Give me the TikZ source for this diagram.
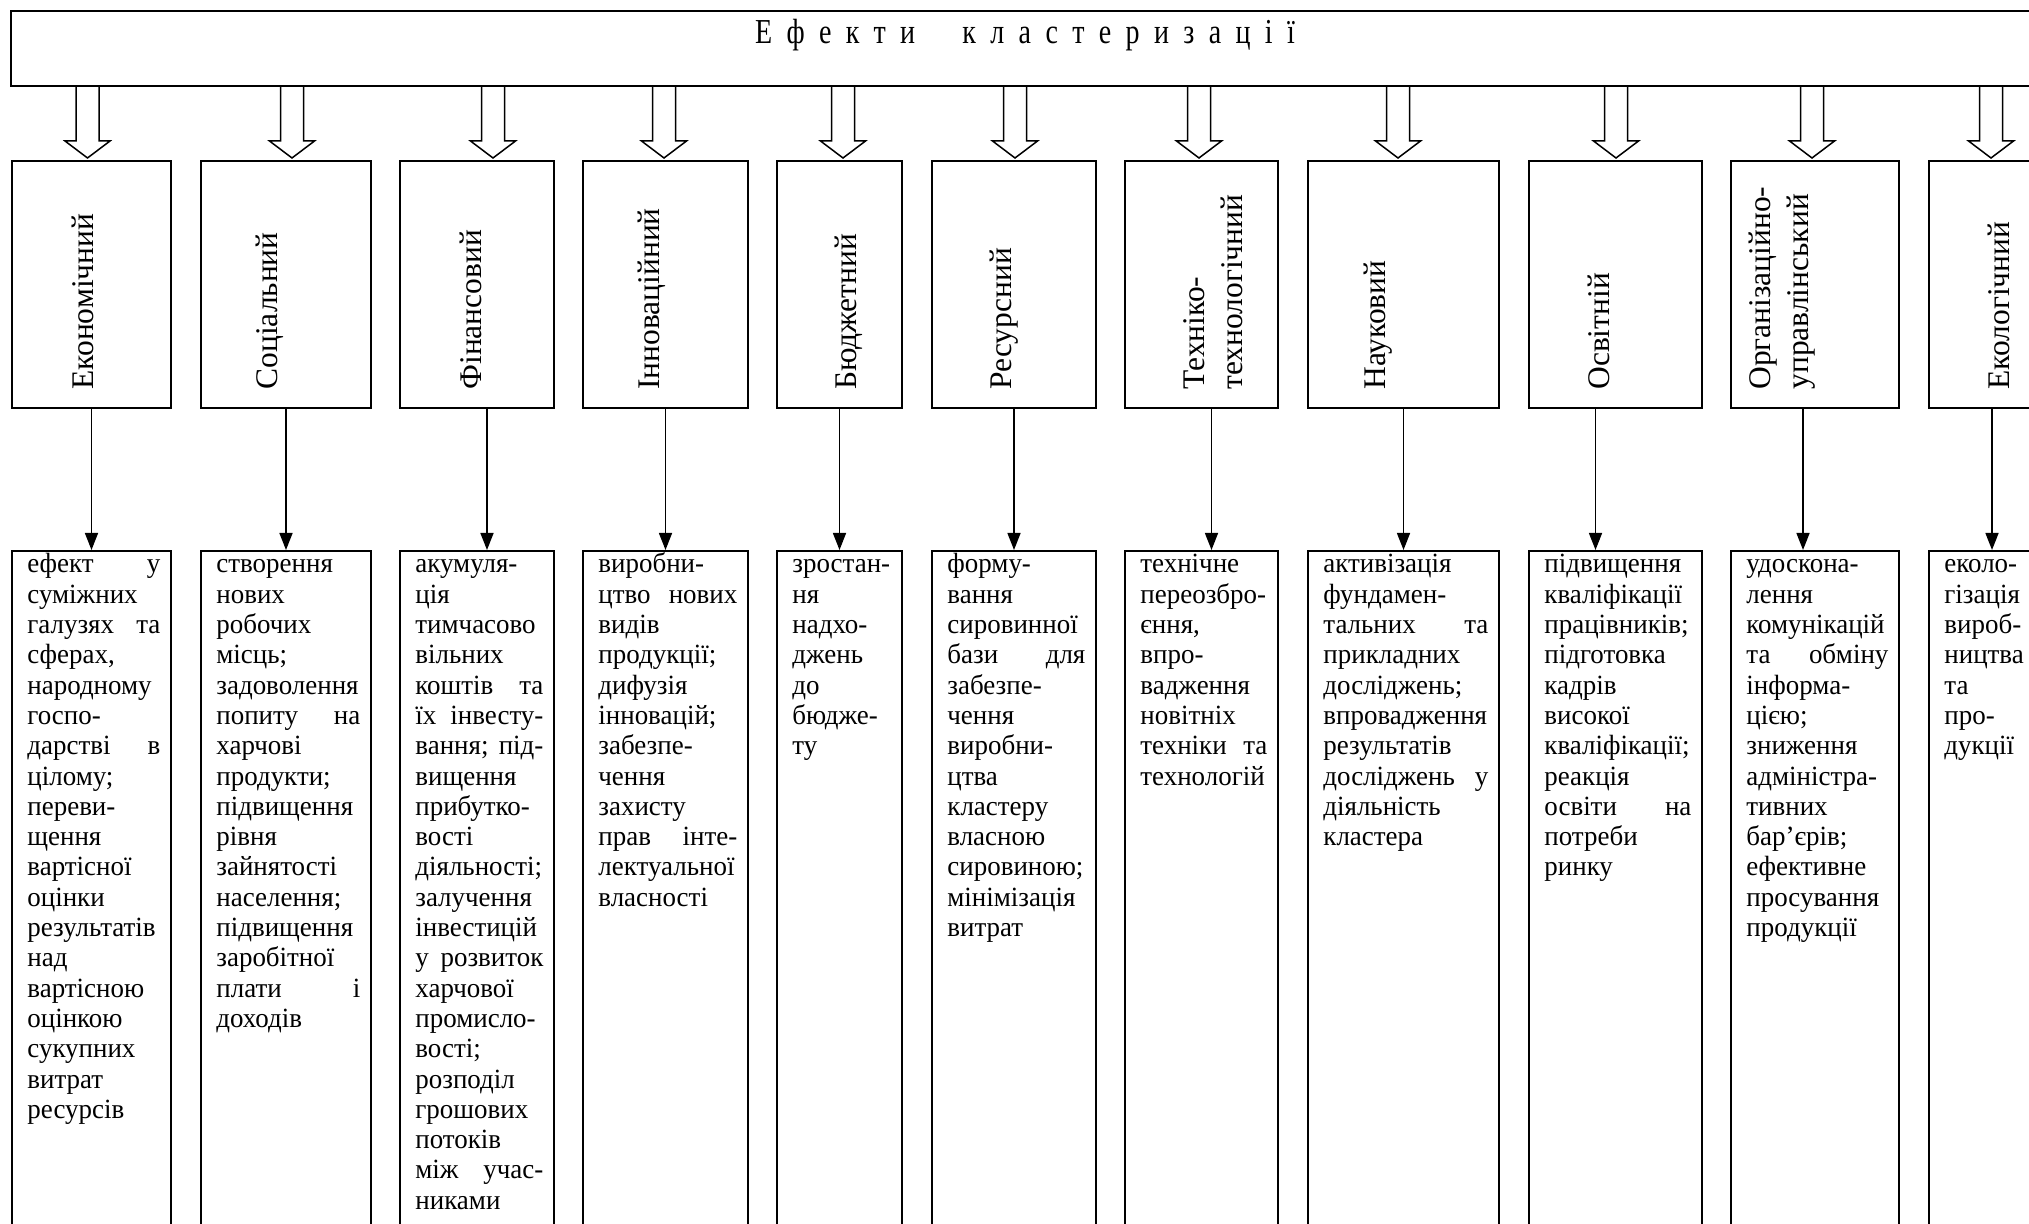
\documentclass[tikz,border=0pt]{standalone}
\usepackage{fontspec}
\setmainfont{Liberation Serif}
\newfontfamily\titlefont[FakeStretch=0.8, LetterSpace=41]{Liberation Serif}
\newfontfamily\bodyfont[FakeStretch=0.97]{Liberation Serif}
\usetikzlibrary{positioning,shapes,arrows.meta}
\newcommand{\jline}[2]{\leavevmode\hbox to\hsize{#1\hfill #2}}
\hyphenpenalty=10000
\exhyphenpenalty=10000

\tikzset{
  topbox/.style={draw, line width=1pt, anchor=north west, inner sep=0pt, minimum width=1014pt, text height=16.5pt, text depth=21pt, font=\titlefont\fontsize{17.5}{20}\selectfont},
  midbox/.style={draw, line width=1pt, anchor=north west, inner sep=0pt, minimum height=123.5pt},
  outbox/.style={draw, line width=1pt, anchor=north west, inner sep=0pt, minimum height=345pt},
  vlabel/.style={rotate=90, anchor=west, inner sep=0pt, align=left, font=\fontsize{15.75}{19}\selectfont},
  outtext/.style={anchor=base west, inner xsep=8pt, inner ysep=0pt, align=left, font=\bodyfont\fontsize{13.9}{15.15}\selectfont},
  hollow/.pic={\draw[line width=0.75pt] (-11.5,0) -- (-11.5,55) -- (-22.5,55) -- (0,72) -- (22.5,55) -- (11.5,55) -- (11.5,0);},
  link/.style={->, line width=0.75pt}
}

\begin{document}
\begin{tikzpicture}[x=0.5pt, y=-0.5pt, >={Triangle[length=8.5pt,width=6.5pt]}]
    \path[use as bounding box, fill=white] (0,0) rectangle (2029,1224);

    % top box
    \node (top) [topbox] at (10,10) {Ефекти\hspace{13pt} кластеризації};

    % effect boxes
    \node (m1) [midbox, minimum width=79.5pt] at (11,160) {};
    \node (m2) [midbox, minimum width=85pt] at (200,160) {};
    \node (m3) [midbox, minimum width=77pt] at (399,160) {};
    \node (m4) [midbox, minimum width=82.5pt] at (582,160) {};
    \node (m5) [midbox, minimum width=62.5pt] at (776,160) {};
    \node (m6) [midbox, minimum width=82pt] at (931,160) {};
    \node (m7) [midbox, minimum width=76.5pt] at (1124,160) {};
    \node (m8) [midbox, minimum width=95.5pt] at (1307,160) {};
    \node (m9) [midbox, minimum width=86.5pt] at (1528,160) {};
    \node (m10) [midbox, minimum width=84pt] at (1730,160) {};
    \node (m11) [midbox, minimum width=63pt] at (1928,160) {};

    \node (l1) [vlabel] at (83,390) {Економічний};
    \node (l2) [vlabel] at (270,390) {Соціальний};
    \node (l3) [vlabel] at (471,390) {Фінансовий};
    \node (l4) [vlabel] at (652,390) {Інноваційний};
    \node (l5) [vlabel] at (849,390) {Бюджетний};
    \node (l6) [vlabel] at (1004,390) {Ресурсний};
    \node (l7) [vlabel] at (1213,390) {Техніко-\\технологічний};
    \node (l8) [vlabel] at (1378,390) {Науковий};
    \node (l9) [vlabel] at (1599,390) {Освітній};
    \node (l10) [vlabel] at (1782,390) {Організаційно-\\управлінський};
    \node (l11) [vlabel] at (1999,390) {Екологічний};

    % hollow arrows
    \pic at (87.5,86) {hollow};
    \pic at (292,86) {hollow};
    \pic at (493,86) {hollow};
    \pic at (664,86) {hollow};
    \pic at (843,86) {hollow};
    \pic at (1015,86) {hollow};
    \pic at (1199,86) {hollow};
    \pic at (1398,86) {hollow};
    \pic at (1616,86) {hollow};
    \pic at (1812,86) {hollow};
    \pic at (1991,86) {hollow};

    % result boxes
    \node (b1) [outbox, minimum width=79.5pt] at (11,550) {};
    \node (b2) [outbox, minimum width=85pt] at (200,550) {};
    \node (b3) [outbox, minimum width=77pt] at (399,550) {};
    \node (b4) [outbox, minimum width=82.5pt] at (582,550) {};
    \node (b5) [outbox, minimum width=62.5pt] at (776,550) {};
    \node (b6) [outbox, minimum width=82pt] at (931,550) {};
    \node (b7) [outbox, minimum width=76.5pt] at (1124,550) {};
    \node (b8) [outbox, minimum width=95.5pt] at (1307,550) {};
    \node (b9) [outbox, minimum width=86.5pt] at (1528,550) {};
    \node (b10) [outbox, minimum width=84pt] at (1730,550) {};
    \node (b11) [outbox, minimum width=63pt] at (1928,550) {};

    \node (t1) [outtext, text width=66.5pt] at ([yshift=-11.5pt]b1.north west) {\jline{ефект}{у}\\ суміжних\\ \jline{галузях}{та}\\ сферах,\\ народному\\ госпо-\\ \jline{дарстві}{в}\\ цілому;\\ переви-\\ щення\\ вартісної\\ оцінки\\ результатів\\ над\\ вартісною\\ оцінкою\\ сукупних\\ витрат\\ ресурсів};
    \node (t2) [outtext, text width=72pt] at ([yshift=-11.5pt]b2.north west) {створення\\ нових\\ робочих\\ місць;\\ задоволення\\ \jline{попиту}{на}\\ харчові\\ продукти;\\ підвищення\\ рівня\\ зайнятості\\ населення;\\ підвищення\\ заробітної\\ \jline{плати}{і}\\ доходів};
    \node (t3) [outtext, text width=64pt] at ([yshift=-11.5pt]b3.north west) {акумуля-\\ ція\\ тимчасово\\ вільних\\ \jline{коштів}{та}\\ \jline{їх}{інвесту-}\\ \jline{вання;}{під-}\\ вищення\\ прибутко-\\ вості\\ діяльності;\\ залучення\\ інвестицій\\ \jline{у}{розвиток}\\ харчової\\ промисло-\\ вості;\\ розподіл\\ грошових\\ потоків\\ \jline{між}{учас-}\\ никами};
    \node (t4) [outtext, text width=69.5pt] at ([yshift=-11.5pt]b4.north west) {виробни-\\ \jline{цтво}{нових}\\ видів\\ продукції;\\ дифузія\\ інновацій;\\ забезпе-\\ чення\\ захисту\\ \jline{прав}{інте-}\\ лектуальної\\ власності};
    \node (t5) [outtext, text width=49.5pt] at ([yshift=-11.5pt]b5.north west) {зростан-\\ ня\\ надхо-\\ джень\\ до\\ бюдже-\\ ту};
    \node (t6) [outtext, text width=69pt] at ([yshift=-11.5pt]b6.north west) {форму-\\ вання\\ сировинної\\ \jline{бази}{для}\\ забезпе-\\ чення\\ виробни-\\ цтва\\ кластеру\\ власною\\ сировиною;\\ мінімізація\\ витрат};
    \node (t7) [outtext, text width=63.5pt] at ([yshift=-11.5pt]b7.north west) {технічне\\ переозбро-\\ єння,\\ впро-\\ вадження\\ новітніх\\ \jline{техніки}{та}\\ технологій};
    \node (t8) [outtext, text width=82.5pt] at ([yshift=-11.5pt]b8.north west) {активізація\\ фундамен-\\ \jline{тальних}{та}\\ прикладних\\ досліджень;\\ впровадження\\ результатів\\ \jline{досліджень}{у}\\ діяльність\\ кластера};
    \node (t9) [outtext, text width=73.5pt] at ([yshift=-11.5pt]b9.north west) {підвищення\\ кваліфікації\\ працівників;\\ підготовка\\ кадрів\\ високої\\ кваліфікації;\\ реакція\\ \jline{освіти}{на}\\ потреби\\ ринку};
    \node (t10) [outtext, text width=71pt] at ([yshift=-11.5pt]b10.north west) {удоскона-\\ лення\\ комунікацій\\ \jline{та}{обміну}\\ інформа-\\ цією;\\ зниження\\ адміністра-\\ тивних\\ бар’єрів;\\ ефективне\\ просування\\ продукції};
    \node (t11) [outtext, text width=50pt] at ([yshift=-11.5pt]b11.north west) {еколо-\\ гізація\\ вироб-\\ ництва\\ та\\ про-\\ дукції};

    % connectors
    \draw[link] (m1.south) -- (b1.north);
    \draw[link] (m2.south) -- (b2.north);
    \draw[link] ([xshift=5pt]m3.south) -- ([xshift=5pt]b3.north);
    \draw[link] (m4.south) -- (b4.north);
    \draw[link] (m5.south) -- (b5.north);
    \draw[link] (m6.south) -- (b6.north);
    \draw[link] ([xshift=5pt]m7.south) -- ([xshift=5pt]b7.north);
    \draw[link] (m8.south) -- (b8.north);
    \draw[link] ([xshift=-10pt]m9.south) -- ([xshift=-10pt]b9.north);
    \draw[link] ([xshift=-6pt]m10.south) -- ([xshift=-6pt]b10.north);
    \draw[link] (m11.south) -- (b11.north);
\end{tikzpicture}
\end{document}
